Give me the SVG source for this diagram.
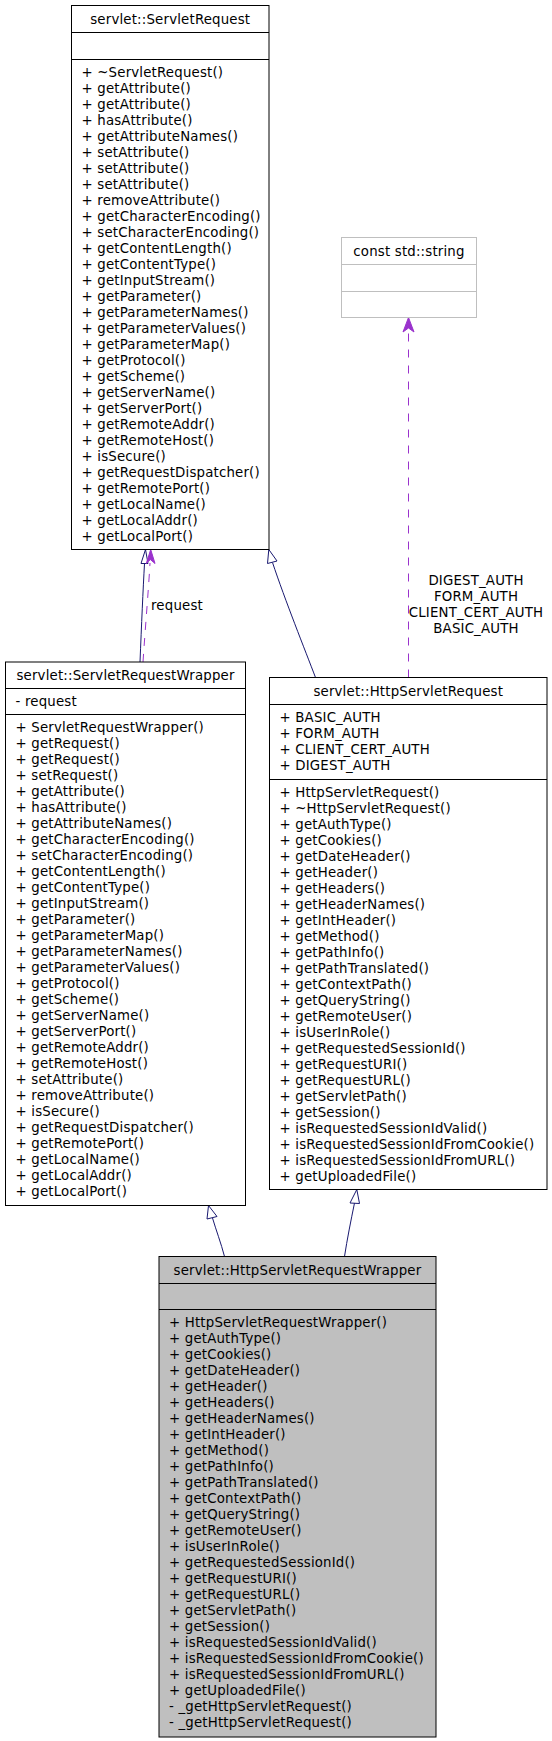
<svg xmlns="http://www.w3.org/2000/svg" width="552" height="1741" viewBox="0 0 552 1741">
<style>
text{font-family:"DejaVu Sans","Liberation Sans",sans-serif;font-size:13.33px;fill:#000;letter-spacing:0.18px}
.t{text-anchor:middle}
.box{fill:#fff;stroke:#000;stroke-width:1}
.sep{stroke:#000;stroke-width:1}
.gbox{fill:#fff;stroke:#bfbfbf;stroke-width:1}
.gsep{stroke:#bfbfbf;stroke-width:1}
.cur{fill:#bfbfbf;stroke:#000;stroke-width:1}
.inh{fill:none;stroke:#191970;stroke-width:1}
.inhh{fill:#fff;stroke:#191970;stroke-width:1}
.use{fill:none;stroke:#9a32cd;stroke-width:1;stroke-dasharray:8,8}
.useh{fill:#9a32cd;stroke:#9a32cd;stroke-width:1}
</style>
<rect width="552" height="1741" fill="#fff"/>
<g id="connectors">
<path class="inh" d="M140,662 C141.5,625 143,590 144.5,563.5"/>
<polygon class="inhh" points="145.5,549.5 141,563.5 148,563.5"/>
<path class="use" d="M143,662 C145.5,625 148.5,590 150,563"/>
<polygon class="useh" points="150.7,549.5 146.3,563.5 150.3,559.5 155,563.5"/>
<text x="151" y="609.8">request</text>
<path class="inh" d="M315.5,677.5 C305,650 285,600 272.5,562.5"/>
<polygon class="inhh" points="268.8,549.5 267.5,563.5 277,561"/>
<path class="use" d="M408.5,677.5 L408.5,331"/>
<polygon class="useh" points="408.5,317.5 403,332 408.5,328 414,332"/>
<text class="t" x="476" y="584.8">DIGEST_AUTH</text>
<text class="t" x="476" y="600.8">FORM_AUTH</text>
<text class="t" x="476" y="616.8">CLIENT_CERT_AUTH</text>
<text class="t" x="476" y="632.8">BASIC_AUTH</text>
<path class="inh" d="M224.5,1256.5 C221,1243 216,1230 212.5,1218"/>
<polygon class="inhh" points="208.5,1205.5 207,1219 217,1216.5"/>
<path class="inh" d="M344.5,1256.5 C347,1240 351,1220 354.5,1203"/>
<polygon class="inhh" points="356.8,1189.5 350,1203 359.5,1203.5"/>
</g>
<g id="ServletRequest">
<rect class="box" x="71.5" y="5.5" width="197.5" height="544"/>
<line class="sep" x1="71.5" y1="32.5" x2="269" y2="32.5"/>
<line class="sep" x1="71.5" y1="59.5" x2="269" y2="59.5"/>
<text class="t" x="170.25" y="23.8">servlet::ServletRequest</text>
<text x="81.5" y="76.8">+ ~ServletRequest()</text>
<text x="81.5" y="92.8">+ getAttribute()</text>
<text x="81.5" y="108.8">+ getAttribute()</text>
<text x="81.5" y="124.8">+ hasAttribute()</text>
<text x="81.5" y="140.8">+ getAttributeNames()</text>
<text x="81.5" y="156.8">+ setAttribute()</text>
<text x="81.5" y="172.8">+ setAttribute()</text>
<text x="81.5" y="188.8">+ setAttribute()</text>
<text x="81.5" y="204.8">+ removeAttribute()</text>
<text x="81.5" y="220.8">+ getCharacterEncoding()</text>
<text x="81.5" y="236.8">+ setCharacterEncoding()</text>
<text x="81.5" y="252.8">+ getContentLength()</text>
<text x="81.5" y="268.8">+ getContentType()</text>
<text x="81.5" y="284.8">+ getInputStream()</text>
<text x="81.5" y="300.8">+ getParameter()</text>
<text x="81.5" y="316.8">+ getParameterNames()</text>
<text x="81.5" y="332.8">+ getParameterValues()</text>
<text x="81.5" y="348.8">+ getParameterMap()</text>
<text x="81.5" y="364.8">+ getProtocol()</text>
<text x="81.5" y="380.8">+ getScheme()</text>
<text x="81.5" y="396.8">+ getServerName()</text>
<text x="81.5" y="412.8">+ getServerPort()</text>
<text x="81.5" y="428.8">+ getRemoteAddr()</text>
<text x="81.5" y="444.8">+ getRemoteHost()</text>
<text x="81.5" y="460.8">+ isSecure()</text>
<text x="81.5" y="476.8">+ getRequestDispatcher()</text>
<text x="81.5" y="492.8">+ getRemotePort()</text>
<text x="81.5" y="508.8">+ getLocalName()</text>
<text x="81.5" y="524.8">+ getLocalAddr()</text>
<text x="81.5" y="540.8">+ getLocalPort()</text>
</g>
<g id="std_string">
<rect class="gbox" x="341.5" y="237.5" width="135" height="80"/>
<line class="gsep" x1="341.5" y1="264.5" x2="476.5" y2="264.5"/>
<line class="gsep" x1="341.5" y1="291.5" x2="476.5" y2="291.5"/>
<text class="t" x="409" y="255.8">const std::string</text>
</g>
<g id="ServletRequestWrapper">
<rect class="box" x="5.5" y="662" width="240" height="543.5"/>
<line class="sep" x1="5.5" y1="688.5" x2="245.5" y2="688.5"/>
<line class="sep" x1="5.5" y1="714.5" x2="245.5" y2="714.5"/>
<text class="t" x="125.5" y="680">servlet::ServletRequestWrapper</text>
<text x="15.5" y="705.8">- request</text>
<text x="15.5" y="731.8">+ ServletRequestWrapper()</text>
<text x="15.5" y="747.8">+ getRequest()</text>
<text x="15.5" y="763.8">+ getRequest()</text>
<text x="15.5" y="779.8">+ setRequest()</text>
<text x="15.5" y="795.8">+ getAttribute()</text>
<text x="15.5" y="811.8">+ hasAttribute()</text>
<text x="15.5" y="827.8">+ getAttributeNames()</text>
<text x="15.5" y="843.8">+ getCharacterEncoding()</text>
<text x="15.5" y="859.8">+ setCharacterEncoding()</text>
<text x="15.5" y="875.8">+ getContentLength()</text>
<text x="15.5" y="891.8">+ getContentType()</text>
<text x="15.5" y="907.8">+ getInputStream()</text>
<text x="15.5" y="923.8">+ getParameter()</text>
<text x="15.5" y="939.8">+ getParameterMap()</text>
<text x="15.5" y="955.8">+ getParameterNames()</text>
<text x="15.5" y="971.8">+ getParameterValues()</text>
<text x="15.5" y="987.8">+ getProtocol()</text>
<text x="15.5" y="1003.8">+ getScheme()</text>
<text x="15.5" y="1019.8">+ getServerName()</text>
<text x="15.5" y="1035.8">+ getServerPort()</text>
<text x="15.5" y="1051.8">+ getRemoteAddr()</text>
<text x="15.5" y="1067.8">+ getRemoteHost()</text>
<text x="15.5" y="1083.8">+ setAttribute()</text>
<text x="15.5" y="1099.8">+ removeAttribute()</text>
<text x="15.5" y="1115.8">+ isSecure()</text>
<text x="15.5" y="1131.8">+ getRequestDispatcher()</text>
<text x="15.5" y="1147.8">+ getRemotePort()</text>
<text x="15.5" y="1163.8">+ getLocalName()</text>
<text x="15.5" y="1179.8">+ getLocalAddr()</text>
<text x="15.5" y="1195.8">+ getLocalPort()</text>
</g>
<g id="HttpServletRequest">
<rect class="box" x="269.5" y="677.5" width="277.5" height="512"/>
<line class="sep" x1="269.5" y1="704.5" x2="547" y2="704.5"/>
<line class="sep" x1="269.5" y1="779.5" x2="547" y2="779.5"/>
<text class="t" x="408.25" y="695.8">servlet::HttpServletRequest</text>
<text x="279.5" y="721.8">+ BASIC_AUTH</text>
<text x="279.5" y="737.8">+ FORM_AUTH</text>
<text x="279.5" y="753.8">+ CLIENT_CERT_AUTH</text>
<text x="279.5" y="769.8">+ DIGEST_AUTH</text>
<text x="279.5" y="796.8">+ HttpServletRequest()</text>
<text x="279.5" y="812.8">+ ~HttpServletRequest()</text>
<text x="279.5" y="828.8">+ getAuthType()</text>
<text x="279.5" y="844.8">+ getCookies()</text>
<text x="279.5" y="860.8">+ getDateHeader()</text>
<text x="279.5" y="876.8">+ getHeader()</text>
<text x="279.5" y="892.8">+ getHeaders()</text>
<text x="279.5" y="908.8">+ getHeaderNames()</text>
<text x="279.5" y="924.8">+ getIntHeader()</text>
<text x="279.5" y="940.8">+ getMethod()</text>
<text x="279.5" y="956.8">+ getPathInfo()</text>
<text x="279.5" y="972.8">+ getPathTranslated()</text>
<text x="279.5" y="988.8">+ getContextPath()</text>
<text x="279.5" y="1004.8">+ getQueryString()</text>
<text x="279.5" y="1020.8">+ getRemoteUser()</text>
<text x="279.5" y="1036.8">+ isUserInRole()</text>
<text x="279.5" y="1052.8">+ getRequestedSessionId()</text>
<text x="279.5" y="1068.8">+ getRequestURI()</text>
<text x="279.5" y="1084.8">+ getRequestURL()</text>
<text x="279.5" y="1100.8">+ getServletPath()</text>
<text x="279.5" y="1116.8">+ getSession()</text>
<text x="279.5" y="1132.8">+ isRequestedSessionIdValid()</text>
<text x="279.5" y="1148.8">+ isRequestedSessionIdFromCookie()</text>
<text x="279.5" y="1164.8">+ isRequestedSessionIdFromURL()</text>
<text x="279.5" y="1180.8">+ getUploadedFile()</text>
</g>
<g id="HttpServletRequestWrapper">
<rect class="cur" x="159" y="1256.5" width="277" height="480.5"/>
<line class="sep" x1="159" y1="1283.5" x2="436" y2="1283.5"/>
<line class="sep" x1="159" y1="1309.5" x2="436" y2="1309.5"/>
<text class="t" x="297.5" y="1274.8">servlet::HttpServletRequestWrapper</text>
<text x="169" y="1326.8">+ HttpServletRequestWrapper()</text>
<text x="169" y="1342.8">+ getAuthType()</text>
<text x="169" y="1358.8">+ getCookies()</text>
<text x="169" y="1374.8">+ getDateHeader()</text>
<text x="169" y="1390.8">+ getHeader()</text>
<text x="169" y="1406.8">+ getHeaders()</text>
<text x="169" y="1422.8">+ getHeaderNames()</text>
<text x="169" y="1438.8">+ getIntHeader()</text>
<text x="169" y="1454.8">+ getMethod()</text>
<text x="169" y="1470.8">+ getPathInfo()</text>
<text x="169" y="1486.8">+ getPathTranslated()</text>
<text x="169" y="1502.8">+ getContextPath()</text>
<text x="169" y="1518.8">+ getQueryString()</text>
<text x="169" y="1534.8">+ getRemoteUser()</text>
<text x="169" y="1550.8">+ isUserInRole()</text>
<text x="169" y="1566.8">+ getRequestedSessionId()</text>
<text x="169" y="1582.8">+ getRequestURI()</text>
<text x="169" y="1598.8">+ getRequestURL()</text>
<text x="169" y="1614.8">+ getServletPath()</text>
<text x="169" y="1630.8">+ getSession()</text>
<text x="169" y="1646.8">+ isRequestedSessionIdValid()</text>
<text x="169" y="1662.8">+ isRequestedSessionIdFromCookie()</text>
<text x="169" y="1678.8">+ isRequestedSessionIdFromURL()</text>
<text x="169" y="1694.8">+ getUploadedFile()</text>
<text x="169" y="1710.8">- _getHttpServletRequest()</text>
<text x="169" y="1726.8">- _getHttpServletRequest()</text>
</g>
</svg>
